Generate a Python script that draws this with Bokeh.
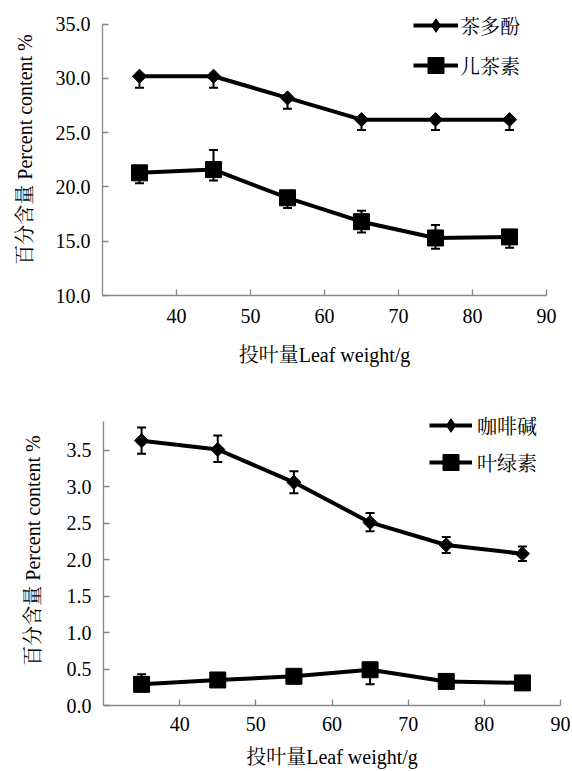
import numpy as np
from bokeh.plotting import figure
from bokeh.models import (Range1d, FixedTicker, NumeralTickFormatter, Whisker,
                          ColumnDataSource, Legend, LegendItem, TeeHead)
from bokeh.embed import file_html
from bokeh.resources import INLINE

# ---------------- data ----------------
leaf_weight = [35, 45, 55, 65, 75, 85]

tea_polyphenols = [30.2, 30.2, 28.2, 26.2, 26.2, 26.2]
tea_poly_err_up = [0.0, 0.0, 0.0, 0.0, 0.0, 0.0]
tea_poly_err_down = [1.05, 1.05, 1.0, 0.95, 0.95, 0.95]

catechins = [21.3, 21.6, 19.0, 16.8, 15.3, 15.4]
catechin_err_up = [0.0, 1.8, 0.0, 1.0, 1.2, 0.0]
catechin_err_down = [0.95, 1.0, 0.95, 1.0, 1.0, 1.0]

caffeine = [3.63, 3.51, 3.06, 2.51, 2.20, 2.08]
caffeine_err_up = [0.18, 0.19, 0.15, 0.13, 0.11, 0.10]
caffeine_err_down = [0.18, 0.17, 0.15, 0.12, 0.11, 0.10]

chlorophyll = [0.29, 0.35, 0.40, 0.49, 0.33, 0.31]
chlorophyll_err_up = [0.14, 0.0, 0.0, 0.0, 0.0, 0.0]
chlorophyll_err_down = [0.0, 0.0, 0.0, 0.20, 0.0, 0.0]

x_ticks = [40, 50, 60, 70, 80, 90]
top_y_ticks = [10, 15, 20, 25, 30, 35]
top_y_axis = (10, 35)
bottom_y_ticks = [0.0, 0.5, 1.0, 1.5, 2.0, 2.5, 3.0, 3.5]
bottom_y_axis = (0, 3.9)

names_top = ["茶多酚", "儿茶素"]
names_bottom = ["咖啡碱", "叶绿素"]

x_label = "投叶量Leaf weight/g"
y_label = "百分含量 Percent content %"

FONT = "'Liberation Serif', 'Noto Serif CJK SC', 'Noto Sans CJK SC', serif"
AXIS_GRAY = "#868686"


def make_panel(height, borders, y_view, y_axis, y_ticks, series, names, legend_locs,
               legend_glyph_w, legend_standoff, xtick_standoff, xlabel_standoff,
               ylabel_standoff):
    left, right, top, bottom = borders
    p = figure(width=572, height=height, output_backend="svg", toolbar_location=None,
               x_range=Range1d(30, 90), y_range=Range1d(*y_view),
               min_border_left=left, min_border_right=right,
               min_border_top=top, min_border_bottom=bottom)
    p.outline_line_color = None
    p.grid.visible = False
    p.background_fill_color = "white"

    for ax in (p.xaxis[0], p.yaxis[0]):
        ax.axis_line_color = AXIS_GRAY
        ax.axis_line_width = 1.3
        ax.major_tick_line_color = AXIS_GRAY
        ax.major_tick_line_width = 1.3
        ax.major_tick_in = 6
        ax.major_tick_out = 0
        ax.minor_tick_line_color = None
        ax.major_label_text_font = FONT
        ax.major_label_text_font_size = "20px"
        ax.major_label_text_color = "black"
        ax.axis_label_text_font = FONT
        ax.axis_label_text_font_size = "20px"
        ax.axis_label_text_font_style = "normal"
        ax.axis_label_text_color = "black"

    p.xaxis.ticker = FixedTicker(ticks=x_ticks)
    p.xaxis.major_label_standoff = xtick_standoff
    p.xaxis.axis_label = x_label
    p.xaxis.axis_label_standoff = xlabel_standoff

    p.yaxis.ticker = FixedTicker(ticks=y_ticks)
    p.yaxis.bounds = y_axis
    p.yaxis.formatter = NumeralTickFormatter(format="0.0")
    p.yaxis.major_label_standoff = 12
    p.yaxis.axis_label = y_label
    p.yaxis.axis_label_standoff = ylabel_standoff

    for (vals, up, down, marker, size, angle, legend_marker, glyph_h), name, loc in zip(
            series, names, legend_locs):
        src = ColumnDataSource(dict(
            x=leaf_weight, y=vals,
            up=[v + e for v, e in zip(vals, up)],
            lo=[v - e for v, e in zip(vals, down)],
        ))
        w = Whisker(source=src, base="x", upper="up", lower="lo",
                    line_color="black", line_width=2, level="underlay",
                    upper_head=TeeHead(size=9, line_width=2, line_color="black"),
                    lower_head=TeeHead(size=9, line_width=2, line_color="black"))
        p.add_layout(w)
        lr = p.line("x", "y", source=src, line_color="black", line_width=4)
        # legend key marker: drawn small (hidden under the plotted marker);
        # legend keys are always drawn unrotated at a size set by the key box
        key = p.scatter("x", "y", source=src, marker=legend_marker, size=5,
                        fill_color="black", line_color="black")
        p.scatter("x", "y", source=src, marker=marker, size=size, angle=angle,
                  fill_color="black", line_color="black")
        legend = Legend(items=[LegendItem(label=name, renderers=[lr, key])],
                        location=loc, orientation="vertical",
                        glyph_width=legend_glyph_w, glyph_height=glyph_h,
                        label_height=20, label_standoff=legend_standoff, spacing=0,
                        padding=0, margin=0, border_line_color=None,
                        background_fill_alpha=0,
                        label_text_font=FONT, label_text_font_size="20px",
                        label_text_color="black")
        p.add_layout(legend)
    return p


top = make_panel(
    390, (102, 26, 3, 95), (10, 36.9), top_y_axis, top_y_ticks,
    [(tea_polyphenols, tea_poly_err_up, tea_poly_err_down, "square", 10, np.pi / 4, "diamond", 34),
     (catechins, catechin_err_up, catechin_err_down, "square", 16, 0.0, "square", 40)],
    names_top, [(311, 253), (311, 210)], 45, 2, 13, 18, 17)

bottom = make_panel(
    381, (103, 12, 5, 66), (0, 4.25), bottom_y_axis, bottom_y_ticks,
    [(caffeine, caffeine_err_up, caffeine_err_down, "square", 10, np.pi / 4, "diamond", 34),
     (chlorophyll, chlorophyll_err_up, chlorophyll_err_down, "square", 16, 0.0, "square", 40)],
    names_bottom, [(326, 263), (326, 223)], 43, 5, 11, 12, 20)

html = file_html([top, bottom], INLINE)
open("out.html", "w").write(html)
